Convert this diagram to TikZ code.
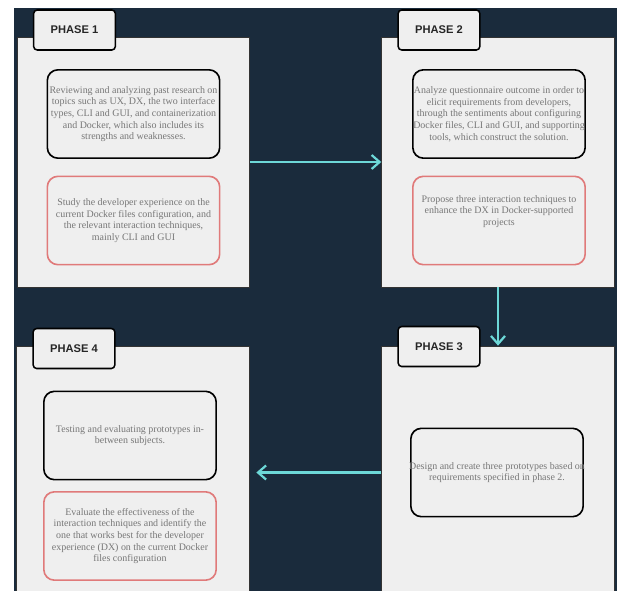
\documentclass[tikz,border=0pt]{standalone}
\usepackage{fontspec}
\setmainfont{Liberation Serif}
\newfontfamily\tabfont{Liberation Sans}
\usetikzlibrary{positioning,arrows.meta}
\definecolor{boardblue}{HTML}{1A2B3C}
\definecolor{panelgray}{HTML}{EFEFEF}
\definecolor{flowcyan}{HTML}{6DD8D8}
\definecolor{goalred}{HTML}{E07A7A}
\definecolor{bodygray}{HTML}{777777}
\tikzset{
  flowarrow/.style={-{Straight Barb[length=2.4mm, width=4.2mm]}, line width=1.9pt, draw=flowcyan},
  panel/.style={draw=black!80, line width=0.6pt, fill=panelgray, minimum width=6.98cm, minimum height=7.5cm, inner sep=0pt},
  tabbox/.style={draw, rounded corners=3pt, line width=1.3pt, fill=panelgray, minimum width=2.45cm, minimum height=1.2cm, font=\tabfont\bfseries\fontsize{9.5}{11}\selectfont, text=black!85},
  stepbox/.style={draw, rounded corners=9pt, line width=1.4pt, fill=panelgray, minimum width=5.17cm, minimum height=2.65cm, align=center, inner xsep=-4pt, inner ysep=1pt},
  goalbox/.style={stepbox, draw=goalred},
  plaintext/.style={align=center, inner sep=0pt}
}
\begin{document}
\begin{tikzpicture}[x=0.03cm, y=-0.03cm, every node/.style={font=\fontsize{8.5}{9.95}\selectfont, text=bodygray}]
  \useasboundingbox (0,0) rectangle (617,591);
  \clip (0,0) rectangle (617,591);
  \fill[white] (0,0) rectangle (617,591);
  \fill[boardblue] (14,8) rectangle (617,591);

  \node[panel] (p1) at (133.5,162) {};
  \node[panel] (p2) at (498,162) {};
  \node[panel, minimum height=7.59cm] (p4) at (133,472.5) {};
  \node[panel, minimum height=7.59cm] (p3) at (498,472.5) {};

  \node[tabbox] (tab1) at (74.5,30) {PHASE 1};
  \node[tabbox] (tab2) at (439,30) {PHASE 2};
  \node[tabbox] (tab4) at (74,348.5) {PHASE 4};
  \node[tabbox] (tab3) at (439,346.5) {PHASE 3};

  \node[stepbox] (review) at (133.5,114) {Reviewing and analyzing past research on\\topics such as UX, DX, the two interface\\types, CLI and GUI, and containerization\\and Docker, which also includes its\\strengths and weaknesses.};
  \node[goalbox] (study) at (133.5,220.5) {Study the developer experience on the\\current Docker files configuration, and\\the relevant interaction techniques,\\mainly CLI and GUI};
  \node[stepbox] (analyze) at (499,114) {Analyze questionnaire outcome in order to\\elicit requirements from developers,\\through the sentiments about configuring\\Docker files, CLI and GUI, and supporting\\tools, which construct the solution.};
  \node[goalbox] (propose) at (499,220.5) {};
  \node[plaintext] (proposetext) at (499,211.5) {Propose three interaction techniques to\\enhance the DX in Docker-supported\\projects};
  \node[stepbox] (design) at (497,472.5) {Design and create three prototypes based on\\requirements specified in phase 2.};
  \node[stepbox] (testing) at (130,435.5) {Testing and evaluating prototypes in-\\between subjects.};
  \node[goalbox] (evaluate) at (130,536) {Evaluate the effectiveness of the\\interaction techniques and identify the\\one that works best for the developer\\experience (DX) on the current Docker\\files configuration};

  \draw[flowarrow] (p1) -- (p2);
  \draw[flowarrow] (p2) -- (p3);
  \draw[flowarrow, shorten >=2mm] (p3) -- (p4);
\end{tikzpicture}
\end{document}
